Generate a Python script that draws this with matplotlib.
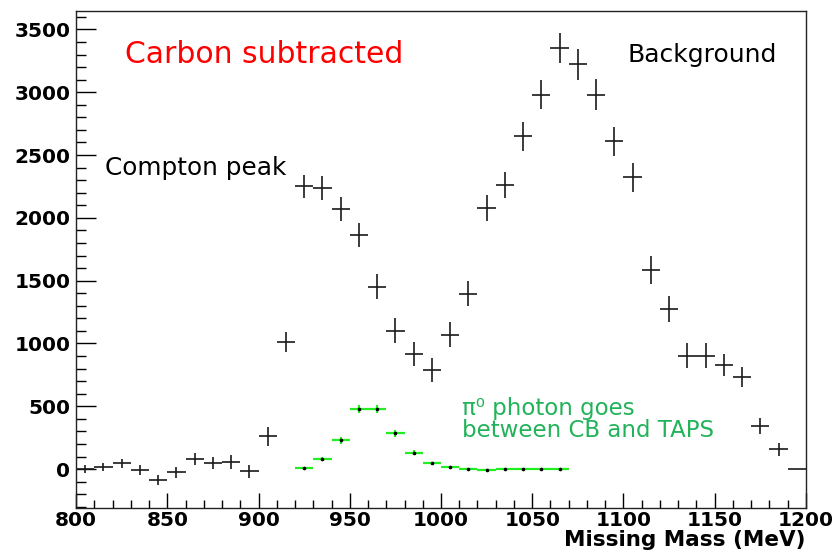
import matplotlib
matplotlib.use("Agg")
import matplotlib.pyplot as plt
import numpy as np
from matplotlib.ticker import MultipleLocator

# Bin centres (MeV)
mass_all = [805, 815, 825, 835, 845, 855, 865, 875, 885, 895,
            905, 915, 925, 935, 945, 955, 965, 975, 985, 995,
            1005, 1015, 1025, 1035, 1045, 1055, 1065, 1075, 1085, 1095,
            1105, 1115, 1125, 1135, 1145, 1155, 1165, 1175, 1185, 1195]
counts_all = [0, 18, 45, -8, -87, -27, 79, 50, 55, -19,
              262, 1013, 2250, 2240, 2070, 1866, 1453, 1103, 917, 789,
              1068, 1395, 2078, 2264, 2649, 2982, 3354, 3221, 2982, 2610,
              2323, 1587, 1273, 901, 901, 829, 731, 345, 157, 0]
err_all = [30, 30, 35, 40, 43, 45, 45, 50, 55, 55,
           75, 80, 93, 95, 95, 95, 100, 96, 93, 95,
           100, 100, 100, 105, 118, 115, 120, 120, 120, 115,
           115, 113, 105, 100, 100, 85, 80, 65, 50, 0]

mass_pi0 = [925, 935, 945, 955, 965, 975, 985, 995, 1005, 1015,
            1025, 1035, 1045, 1055, 1065]
counts_pi0 = [8, 82, 228, 476, 476, 284, 130, 48, 16, 3,
              -5, 0, 0, 0, 0]
err_pi0 = [10, 15, 25, 33, 33, 28, 20, 12, 6, 4,
           3, 2, 2, 2, 2]

bin_half = 5

fig = plt.figure(figsize=(8.4, 5.58), dpi=100)
ax = fig.add_axes([0.0905, 0.0896, 0.869, 0.8914])

ax.errorbar(mass_all, counts_all, yerr=err_all, xerr=bin_half, fmt='none',
            ecolor='#1a1a1a', elinewidth=1.2, capsize=0)
ax.errorbar(mass_pi0, counts_pi0, yerr=err_pi0, xerr=bin_half, fmt='o',
            ms=1.6, mfc='black', mec='black', ecolor='#22ee22',
            elinewidth=1.6, capsize=0)

ax.set_xlim(800, 1200)
ax.set_ylim(-310, 3650)

ax.xaxis.set_major_locator(MultipleLocator(50))
ax.xaxis.set_minor_locator(MultipleLocator(10))
ax.yaxis.set_major_locator(MultipleLocator(500))
ax.yaxis.set_minor_locator(MultipleLocator(100))

ax.tick_params(axis='x', which='major', direction='in', length=11, width=1.0,
               top=False, pad=2, labelsize=14.5)
ax.tick_params(axis='x', which='minor', direction='in', length=5.8, width=1.0, top=False)
ax.tick_params(axis='y', which='major', direction='in', length=14.5, width=1.0,
               right=False, pad=4, labelsize=14.5)
ax.tick_params(axis='y', which='minor', direction='in', length=7.2, width=1.0, right=False)

for lab in ax.get_xticklabels() + ax.get_yticklabels():
    lab.set_fontfamily('DejaVu Sans')
    lab.set_fontweight('bold')

for sp in ax.spines.values():
    sp.set_linewidth(1.0)
    sp.set_color('#222222')

ax.text(1.0, -0.0764, 'Missing Mass (MeV)', transform=ax.transAxes,
        fontfamily='DejaVu Sans', fontweight='bold', fontsize=15.5,
        ha='right', va='baseline')

ax.text(0.067, 0.8947, 'Carbon subtracted', transform=ax.transAxes, color='red',
        fontsize=21.5, ha='left', va='baseline')
ax.text(0.0397, 0.6695, 'Compton peak', transform=ax.transAxes, color='black',
        fontsize=17.8, ha='left', va='baseline')
ax.text(0.756, 0.8967, 'Background', transform=ax.transAxes, color='black',
        fontsize=18, ha='left', va='baseline')
ax.text(0.529, 0.187, 'π⁰ photon goes', transform=ax.transAxes,
        color='#22b35a', fontsize=16.5, ha='left', va='baseline')
ax.text(0.529, 0.1427, 'between CB and TAPS', transform=ax.transAxes,
        color='#22b35a', fontsize=16.5, ha='left', va='baseline')

fig.savefig('out.png', dpi=100)
